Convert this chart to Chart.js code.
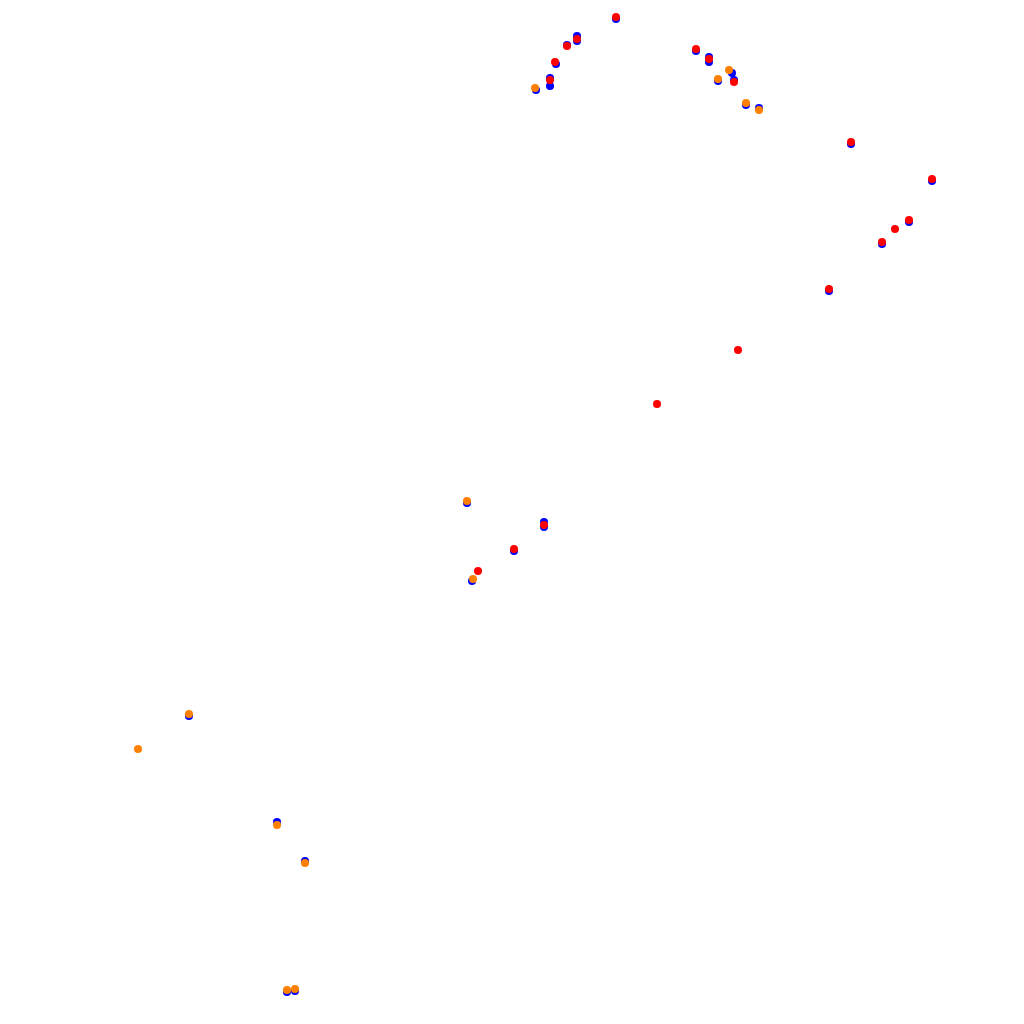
<!DOCTYPE html>
<html>
<head>
<meta charset="utf-8">
<script src="https://cdn.jsdelivr.net/npm/chart.js@4/dist/chart.umd.min.js"></script>
<style>
  html, body { margin: 0; padding: 0; background: #fff; }
  #chart { display: block; }
</style>
</head>
<body>
<canvas id="chart" width="1024" height="1024"></canvas>
<script>
'use strict';

// track positions for each series (x across, y down)
let blueX = [616, 577, 577, 567, 556, 550, 550, 536, 696, 709, 709, 732, 734, 718, 746, 759,
  851, 932, 909, 882, 829, 467, 544, 544, 514, 472, 189, 277, 305, 287, 295];
let blueY = [19, 36, 41, 45, 64, 78, 86, 90, 51, 57, 62, 73, 80, 81, 105, 108,
  144, 181, 222, 244, 291, 503, 522, 527, 551, 581, 716, 822, 861, 992, 991];

let orangeX = [535, 729, 718, 746, 759, 467, 473, 189, 138, 277, 305, 287, 295];
let orangeY = [88, 70, 79, 103, 110, 501, 579, 714, 749, 825, 863, 990, 989];

let redX = [616, 577, 567, 555, 550, 696, 709, 734, 851, 932, 909, 895, 882, 829, 738, 657, 544, 514, 478];
let redY = [17, 39, 46, 62, 80, 49, 59, 82, 142, 179, 220, 229, 242, 289, 350, 404, 525, 549, 571];

function toPoints(xs, ys) {
  let pts = [];
  for (let i = 0; i < xs.length; i++) {
    pts.push({ x: xs[i], y: ys[i] });
  }
  return pts;
}

let ctx = document.getElementById('chart');

new Chart(ctx, {
  type: 'scatter',
  data: {
    datasets: [
      {
        label: 'blue',
        data: toPoints(blueX, blueY),
        backgroundColor: '#0000ff',
        borderWidth: 0,
        pointRadius: 4,
        order: 3
      },
      {
        label: 'orange',
        data: toPoints(orangeX, orangeY),
        backgroundColor: '#ff8000',
        borderWidth: 0,
        pointRadius: 4,
        order: 2
      },
      {
        label: 'red',
        data: toPoints(redX, redY),
        backgroundColor: '#ff0000',
        borderWidth: 0,
        pointRadius: 4,
        order: 1
      }
    ]
  },
  options: {
    responsive: false,
    animation: false,
    clip: false,
    layout: { padding: 0, autoPadding: false },
    scales: {
      x: { type: 'linear', min: 0, max: 1024, display: false },
      y: { type: 'linear', min: 0, max: 1024, reverse: true, display: false }
    },
    plugins: {
      legend: { display: false },
      tooltip: { enabled: false }
    }
  }
});
</script>
</body>
</html>
